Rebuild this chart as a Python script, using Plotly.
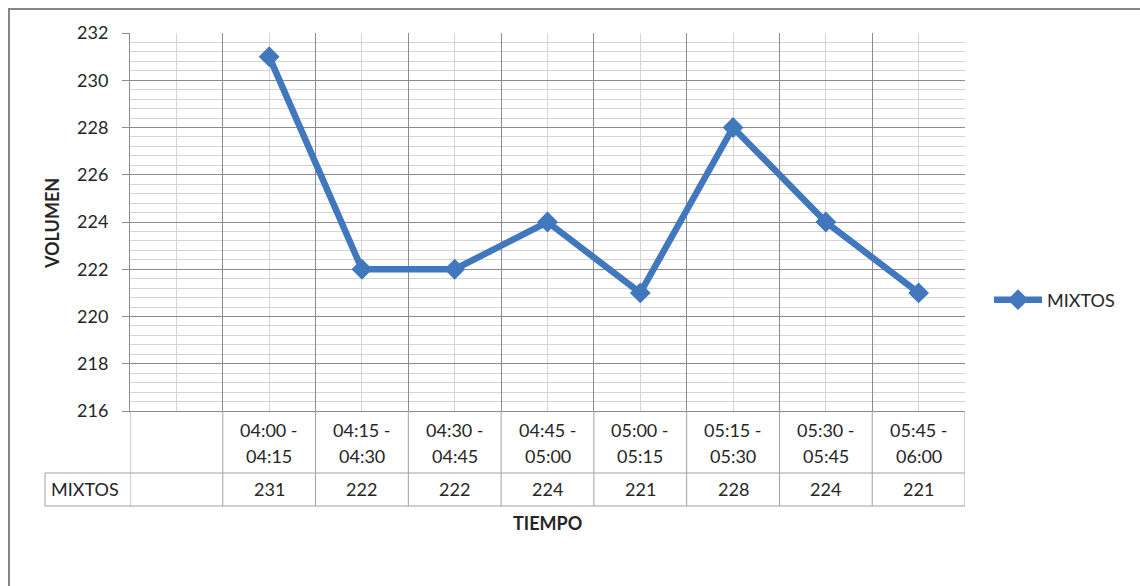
import plotly.graph_objects as go

# Traffic counts per 15-minute interval
periods = ["04:00 - 04:15", "04:15 - 04:30", "04:30 - 04:45", "04:45 - 05:00",
           "05:00 - 05:15", "05:15 - 05:30", "05:30 - 05:45", "05:45 - 06:00"]
mixtos = [231, 222, 222, 224, 221, 228, 224, 221]
series_name = "MIXTOS"
y_ticks = [216, 218, 220, 222, 224, 226, 228, 230, 232]

W, H = 1140, 586
L, R, T, B = 130, 965, 33, 411          # plot area in pixels
n_cols = len(periods) + 1                # leading empty category column

FONT = "Lato"
FS = 18
TXT = "#262626"
BLUE = "#4177BD"
GRID_MAJOR = "#8c8c8c"
GRID_MINOR = "#d4d4d4"
TABLE = "#a0a0a0"


def px_x(p):
    return (p - L) / (R - L)


def px_y(p):
    return (B - p) / (B - T)


def label(x, y, text, xref="x", **kw):
    d = dict(x=x, xref=xref, y=y, yref="paper", text=text, showarrow=False,
             xanchor="center", yanchor="middle",
             font=dict(family=FONT, size=FS, color=TXT))
    d.update(kw)
    return d


# Category centers: column 0 is blank, data sits in columns 1..8
xs = [i + 1.5 for i in range(len(periods))]

fig = go.Figure()
fig.add_trace(go.Scatter(
    x=xs, y=mixtos, name=series_name, mode="lines+markers",
    line=dict(color=BLUE, width=6.5),
    marker=dict(symbol="diamond", size=16, color=BLUE),
))

shapes = []
annotations = []

# Outer chart frame
shapes.append(dict(type="rect", xref="paper", yref="paper",
                   x0=px_x(9), x1=px_x(1200), y0=px_y(9), y1=px_y(640),
                   line=dict(color="#868686", width=2), fillcolor="rgba(0,0,0,0)",
                   layer="below"))

# Data table grid
row1_bot = 473
row2_bot = 506
for i in range(n_cols + 1):
    shapes.append(dict(type="line", xref="x", yref="paper", x0=i, x1=i,
                       y0=px_y(B), y1=px_y(row2_bot),
                       line=dict(color=TABLE, width=1)))
for yy in (row1_bot, row2_bot):
    shapes.append(dict(type="line", xref="paper", yref="paper",
                       x0=px_x(45), x1=1, y0=px_y(yy), y1=px_y(yy),
                       line=dict(color=TABLE, width=1)))
shapes.append(dict(type="line", xref="paper", yref="paper",
                   x0=px_x(45), x1=px_x(45), y0=px_y(row1_bot), y1=px_y(row2_bot),
                   line=dict(color=TABLE, width=1)))

# Category labels (two lines each) and values
for x, lab, v in zip(xs, periods, mixtos):
    first, second = lab.split(" - ")
    annotations.append(label(x, px_y(430), first + " -"))
    annotations.append(label(x, px_y(456), second))
    annotations.append(label(x, px_y(489), str(v)))

annotations.append(label(px_x(49), px_y(489), series_name, xref="paper",
                         xanchor="left"))

# Axis titles
annotations.append(label(px_x(547), px_y(523), "<b>TIEMPO</b>", xref="paper"))
annotations.append(label(px_x(52), px_y(224), "<b>VOLUMEN</b>", xref="paper",
                         textangle=-90))

fig.update_layout(
    width=W, height=H,
    margin=dict(l=L, r=W - R, t=T, b=H - B, autoexpand=False),
    paper_bgcolor="white", plot_bgcolor="white",
    font=dict(family=FONT, size=FS, color=TXT),
    showlegend=True,
    legend=dict(x=px_x(989), y=px_y(300), xanchor="left", yanchor="middle",
                font=dict(family=FONT, size=FS, color=TXT),
                bgcolor="rgba(0,0,0,0)", itemwidth=48),
    shapes=shapes,
    annotations=annotations,
)

fig.update_xaxes(
    range=[0, n_cols], showticklabels=False, ticks="",
    showgrid=True, gridcolor=GRID_MAJOR, gridwidth=1, tick0=0, dtick=1,
    minor=dict(showgrid=True, gridcolor=GRID_MINOR, tick0=0.5, dtick=1),
    showline=True, linecolor=GRID_MAJOR, linewidth=1,
    zeroline=False, fixedrange=True,
)
fig.update_yaxes(
    range=[y_ticks[0], y_ticks[-1]], tickvals=y_ticks,
    ticks="outside", ticklen=7, tickcolor=GRID_MAJOR,
    ticklabelstandoff=10,
    tickfont=dict(family=FONT, size=FS, color=TXT),
    showgrid=True, gridcolor=GRID_MAJOR, gridwidth=1,
    minor=dict(showgrid=True, gridcolor=GRID_MINOR, dtick=0.4, tick0=216),
    showline=True, linecolor=GRID_MAJOR, linewidth=1,
    zeroline=False, fixedrange=True,
)

fig.write_html("out.html")
